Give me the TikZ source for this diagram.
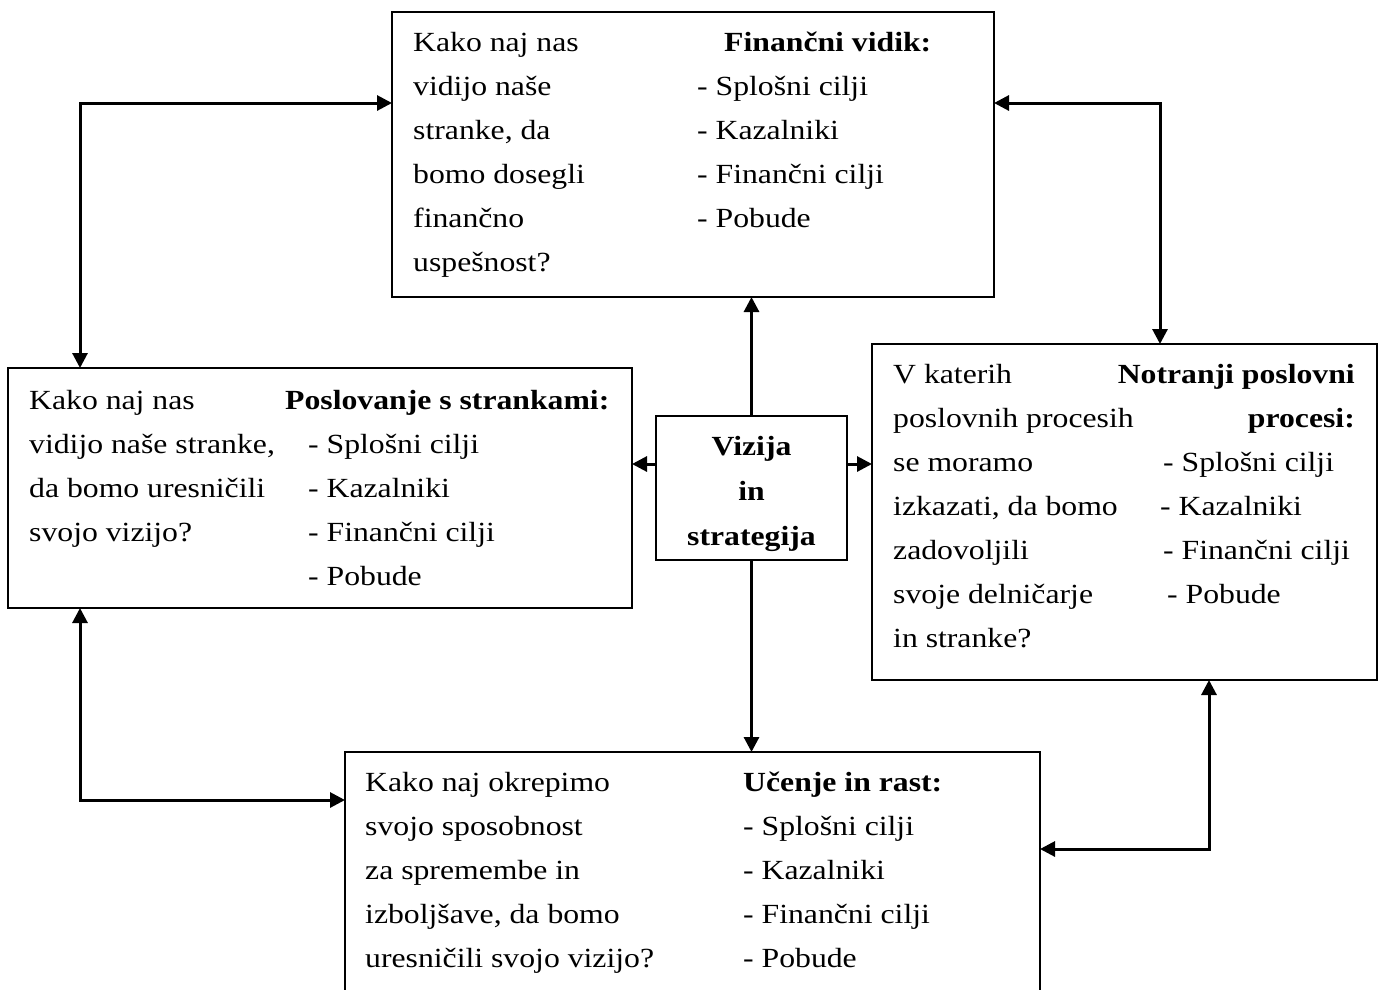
\documentclass[tikz,border=0pt]{standalone}
\usepackage{fontspec}
\setmainfont[FakeStretch=1.145]{Liberation Serif}
\usetikzlibrary{arrows.meta}
\tikzset{
  box/.style={draw, line width=2.2pt, inner sep=0pt, outer sep=0pt, anchor=north west},
  txt/.style={inner sep=0pt, anchor=base west, font=\fontsize{27.7}{44}\selectfont},
  bld/.style={txt, font=\fontsize{27.7}{44}\selectfont\bfseries},
  tip/.tip={Triangle[length=15pt,width=15pt]},
  conn/.style={line width=3pt, tip-tip},
  oneway/.style={line width=3pt, -tip},
}
\newcommand\textlines[5]{% #1 style, #2 prefix, #3 x, #4 first baseline, #5 lines
  \foreach \t [count=\i] in {#5} \node[#1, name=#2\i] at (#3, #4+44*\i-44) {\t};}
\begin{document}
\begin{tikzpicture}[x=1pt, y=-1pt]
\useasboundingbox (0,0) rectangle (1379,989);
\clip (0,0) rectangle (1379,989);
\fill[white] (0,0) rectangle (1379,989);

% boxes
\node[box, minimum width=602, minimum height=285] (fin) at (392,12) {};
\node[box, minimum width=624, minimum height=240] (cust) at (8,368) {};
\node[box, minimum width=191, minimum height=144] (vis) at (656,416) {};
\node[box, minimum width=505, minimum height=336] (proc) at (872,344) {};
\node[box, minimum width=695, minimum height=280] (learn) at (345,752) {};

% top box text
\textlines{txt}{fl}{413}{51}{Kako naj nas, vidijo naše, {stranke, da}, bomo dosegli, finančno, uspešnost?}
\node[bld, name=fh] at (724,51) {Finančni vidik:};
\textlines{txt}{fr}{697}{95}{- Splošni cilji, - Kazalniki, - Finančni cilji, - Pobude}

% left box text
\textlines{txt}{cl}{29}{409}{Kako naj nas, {vidijo naše stranke,}, da bomo uresničili, svojo vizijo?}
\node[bld, name=ch] at (285,409) {Poslovanje s strankami:};
\textlines{txt}{cr}{308}{453}{- Splošni cilji, - Kazalniki, - Finančni cilji, - Pobude}

% right box text
\textlines{txt}{pl}{893}{383}{V katerih, poslovnih procesih, se moramo, {izkazati, da bomo}, zadovoljili, svoje delničarje, in stranke?}
\node[bld, anchor=base east, name=ph1] at (1355,383) {Notranji poslovni};
\node[bld, anchor=base east, name=ph2] at (1355,427) {procesi:};
\node[txt, name=pr1] at (1163,471) {- Splošni cilji};
\node[txt, name=pr2] at (1160,515) {- Kazalniki};
\node[txt, name=pr3] at (1163,559) {- Finančni cilji};
\node[txt, name=pr4] at (1167,603) {- Pobude};

% bottom box text
\textlines{txt}{ll}{365}{791}{Kako naj okrepimo, svojo sposobnost, za spremembe in, {izboljšave, da bomo}, uresničili svojo vizijo?}
\node[bld, name=lh] at (743,791) {Učenje in rast:};
\textlines{txt}{lr}{743}{835}{- Splošni cilji, - Kazalniki, - Finančni cilji, - Pobude}

% centre text
\node[bld, anchor=base, name=v1] at (751.5,455) {Vizija};
\node[bld, anchor=base, name=v2] at (751.5,500) {in};
\node[bld, anchor=base, name=v3] at (751.5,545) {strategija};

% corner coordinates
\coordinate (c1) at (80,103);
\coordinate (c2) at (1160,103);
\coordinate (c3) at (80,800);
\coordinate (c4) at (1209,849);
\coordinate (vx) at (751.5,464);

% double-headed connectors
\draw[conn] (fin.west |- c1) -- (c1) -- (cust.north -| c1);
\draw[conn] (fin.east |- c2) -- (c2) -- (proc.north -| c2);
\draw[conn] (cust.south -| c3) -- (c3) -- (learn.west |- c3);
\draw[conn] (proc.south -| c4) -- (c4) -- (learn.east |- c4);

% from the centre
\draw[oneway] (vis.north -| vx) -- (fin.south -| vx);
\draw[oneway] (vis.south -| vx) -- (learn.north -| vx);
\draw[oneway] (vis.west |- vx) -- (cust.east |- vx);
\draw[oneway] (vis.east |- vx) -- (proc.west |- vx);
\end{tikzpicture}
\end{document}
